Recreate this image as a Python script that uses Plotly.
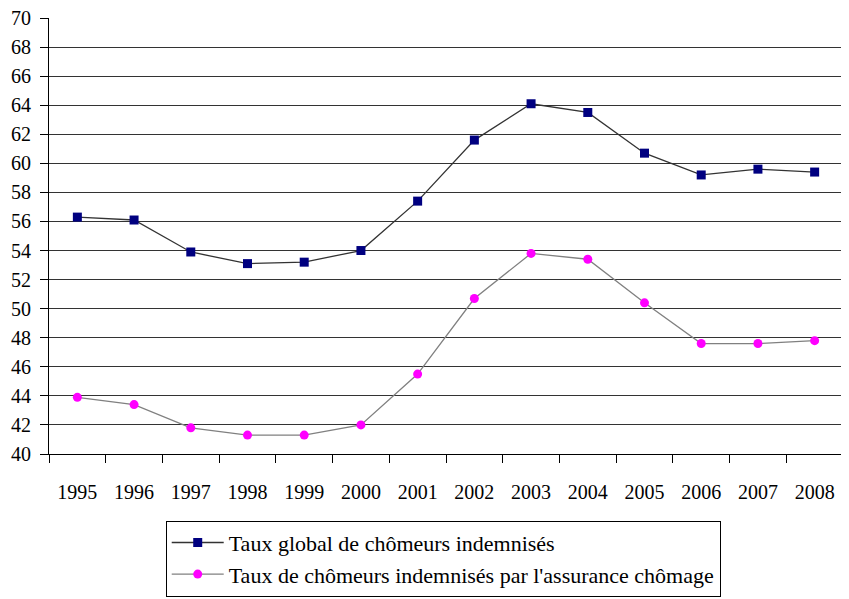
import plotly.graph_objects as go

years = ["1995", "1996", "1997", "1998", "1999", "2000", "2001",
         "2002", "2003", "2004", "2005", "2006", "2007", "2008"]
taux_global = [56.3, 56.1, 53.9, 53.1, 53.2, 54.0, 57.4,
               61.6, 64.1, 63.5, 60.7, 59.2, 59.6, 59.4]
taux_assurance = [43.9, 43.4, 41.8, 41.3, 41.3, 42.0, 45.5,
                  50.7, 53.8, 53.4, 50.4, 47.6, 47.6, 47.8]
y_ticks = list(range(40, 71, 2))

FONT = "Liberation Serif"

fig = go.Figure()
fig.add_trace(go.Scatter(
    x=years, y=taux_global, mode="lines+markers",
    name="Taux global de chômeurs indemnisés",
    line=dict(color="#333333", width=1.3),
    marker=dict(symbol="square", size=9, color="#000080"),
))
fig.add_trace(go.Scatter(
    x=years, y=taux_assurance, mode="lines+markers",
    name="Taux de chômeurs indemnisés par l'assurance chômage",
    line=dict(color="#808080", width=1.3),
    marker=dict(symbol="circle", size=9, color="#FF00FF"),
))

fig.update_layout(
    width=849, height=599,
    margin=dict(l=41, r=14, t=10, b=153),
    paper_bgcolor="white", plot_bgcolor="white",
    font=dict(family=FONT, size=20, color="black"),
    showlegend=True,
    legend=dict(
        x=0.147, y=-0.153, xanchor="left", yanchor="top",
        bordercolor="black", borderwidth=1,
        font=dict(family=FONT, size=22, color="black"),
        bgcolor="white", itemwidth=52,
    ),
    xaxis=dict(
        type="category", range=[-0.5, 13.5],
        showgrid=False, showline=True, linecolor="black", linewidth=1,
        ticks="outside", tickson="boundaries", ticklen=8, tickcolor="black",
        tickfont=dict(family=FONT, size=20),
        ticklabelstandoff=20, automargin=False,
        zeroline=False,
    ),
    yaxis=dict(
        range=[40, 70], tickvals=y_ticks,
        showgrid=True, gridcolor="#333333", gridwidth=1,
        showline=True, linecolor="black", linewidth=1,
        ticks="outside", ticklen=8, tickcolor="black",
        tickfont=dict(family=FONT, size=20),
        ticklabeloverflow="allow", ticklabelstandoff=5, automargin=False,
        zeroline=False,
    ),
)

fig.write_html("out.html")
